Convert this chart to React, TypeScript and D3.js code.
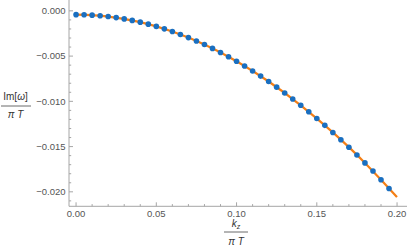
import React from "react";
import * as d3 from "d3";

const kValues = [
  0, 0.005, 0.01, 0.015, 0.02, 0.025, 0.03, 0.035, 0.04, 0.045,
  0.05, 0.055, 0.06, 0.065, 0.07, 0.075, 0.08, 0.085, 0.09, 0.095,
  0.1, 0.105, 0.11, 0.115, 0.12, 0.125, 0.13, 0.135, 0.14, 0.145,
  0.15, 0.155, 0.16, 0.165, 0.17, 0.175, 0.18, 0.185, 0.19, 0.195,
];
const imValues = [
  -0.00042, -0.000433, -0.000472, -0.000537, -0.000628, -0.000744, -0.000887, -0.001055, -0.001249, -0.001469,
  -0.001715, -0.001986, -0.002283, -0.002606, -0.002953, -0.003326, -0.003725, -0.004148, -0.004597, -0.005071,
  -0.005569, -0.006092, -0.00664, -0.007212, -0.007809, -0.008429, -0.009074, -0.009743, -0.010435, -0.011151,
  -0.01189, -0.012652, -0.013437, -0.014246, -0.015077, -0.01593, -0.016805, -0.017703, -0.01867, -0.01963,
];
const fitK = [0, 0.02, 0.04, 0.06, 0.08, 0.1, 0.12, 0.14, 0.16, 0.18, 0.19, 0.2];
const fitIm = [-0.00042, -0.000628, -0.001249, -0.002283, -0.003725, -0.005569, -0.007809, -0.010435, -0.013437, -0.016805, -0.01867, -0.02058];
const xTicks = [0, 0.05, 0.1, 0.15, 0.2];
const yTicks = [0, -0.005, -0.01, -0.015, -0.02];

const W = 407;
const H = 251;
const AXIS = "#a6a6a6";
const LABEL = "#555555";
const FONT = "'Liberation Sans', Arial, sans-serif";

export default function App() {
  const x = d3.scaleLinear().domain([-0.0044, 0.2062]).range([69, 407]);
  const y = d3.scaleLinear().domain([0.0012, -0.0216]).range([0, 206.3]);
  const x0 = 69;
  const yAx = 206.3;

  const line = d3
    .line<number>()
    .x((_, i) => x(fitK[i]))
    .y((d) => y(d))
    .curve(d3.curveMonotoneX);

  const xMinor = d3.range(0, 0.2061, 0.01).filter((v) => xTicks.every((t) => Math.abs(t - v) > 1e-6));
  const yMinor = d3.range(0, -0.0215, -0.001).filter((v) => yTicks.every((t) => Math.abs(t - v) > 1e-7));
  const fmtX = d3.format(".2f");
  const fmtY = (v: number) => (v === 0 ? "0.000" : "\u2212" + d3.format(".3f")(Math.abs(v)));

  return (
    <svg width={W} height={H} style={{ position: "absolute", left: 0, top: 0 }} fontFamily={FONT}>
      {/* axes */}
      <line x1={x0} x2={x0} y1={0} y2={yAx} stroke={AXIS} strokeWidth={1} />
      <line x1={x0} x2={W} y1={yAx} y2={yAx} stroke={AXIS} strokeWidth={1} />
      {yTicks.map((t) => (
        <g key={"yt" + t}>
          <line x1={x0} x2={x0 + 4} y1={y(t)} y2={y(t)} stroke={AXIS} />
          <text x={65.5} y={y(t) + 3.4} textAnchor="end" fontSize={9.5} fill={LABEL}>
            {fmtY(t)}
          </text>
        </g>
      ))}
      {yMinor.map((t) => (
        <line key={"ym" + t} x1={x0} x2={x0 + 2.2} y1={y(t)} y2={y(t)} stroke={AXIS} />
      ))}
      {xTicks.map((t) => (
        <g key={"xt" + t}>
          <line x1={x(t)} x2={x(t)} y1={yAx} y2={yAx - 4} stroke={AXIS} />
          <text x={x(t)} y={217} textAnchor="middle" fontSize={9.5} fill={LABEL}>
            {fmtX(t)}
          </text>
        </g>
      ))}
      {xMinor.map((t) => (
        <line key={"xm" + t} x1={x(t)} x2={x(t)} y1={yAx} y2={yAx - 2.2} stroke={AXIS} />
      ))}

      {/* fit line */}
      <path d={line(fitIm) || ""} fill="none" stroke="#f47f16" strokeWidth={2.2} />
      {/* points */}
      {imValues.map((v, i) => (
        <circle key={"p" + i} cx={x(kValues[i])} cy={y(v)} r={2.8} fill="#1a6fc0" />
      ))}

      {/* y label */}
      <g fill="#333" fontSize={10}>
        <text x={15.5} y={100} textAnchor="middle">
          Im[<tspan fontStyle="italic">ω</tspan>]
        </text>
        <line x1={1} x2={31} y1={106} y2={106} stroke="#444" strokeWidth={0.8} />
        <text x={15.5} y={118} textAnchor="middle" fontStyle="italic">
          π T
        </text>
      </g>
      {/* x label */}
      <g fill="#333" fontSize={10}>
        <text x={236} y={227} textAnchor="middle" fontStyle="italic">
          k<tspan fontSize={7} dy={2}>z</tspan>
        </text>
        <line x1={224} x2={248} y1={232} y2={232} stroke="#444" strokeWidth={0.8} />
        <text x={236} y={245} textAnchor="middle" fontStyle="italic">
          π T
        </text>
      </g>
    </svg>
  );
}
